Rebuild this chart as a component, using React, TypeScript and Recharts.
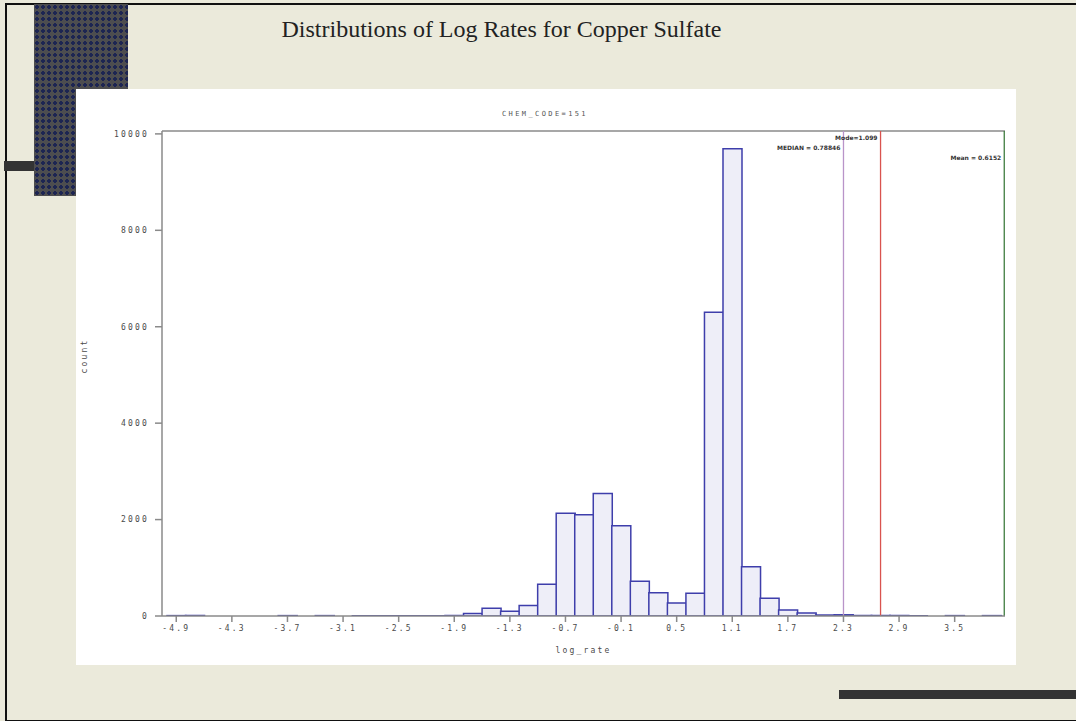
import React from "react";
import {
  ComposedChart,
  Bar,
  XAxis,
  YAxis,
  ReferenceLine,
} from "recharts";

// histogram bin midpoints (log_rate) and counts
const binMids = [
  -4.9, -4.7, -4.5, -4.3, -4.1, -3.9, -3.7, -3.5, -3.3, -3.1, -2.9, -2.7, -2.5,
  -2.3, -2.1, -1.9, -1.7, -1.5, -1.3, -1.1, -0.9, -0.7, -0.5, -0.3, -0.1, 0.1,
  0.3, 0.5, 0.7, 0.9, 1.1, 1.3, 1.5, 1.7, 1.9, 2.1, 2.3, 2.5, 2.7, 2.9, 3.1,
  3.3, 3.5, 3.7, 3.9,
];
const counts = [
  8, 8, 0, 0, 0, 0, 8, 0, 8, 0, 5, 5, 5, 5, 5, 10, 50, 160, 100, 220, 660,
  2130, 2100, 2540, 1870, 720, 480, 270, 470, 6300, 9690, 1020, 370, 125, 60,
  20, 25, 10, 10, 10, 5, 0, 8, 0, 8,
];
const yTicks = [0, 2000, 4000, 6000, 8000, 10000];

// vertical reference lines with their captions
const refLines = [
  { x: 2.3, text: "MEDIAN = 0.78846", color: "#b994c9", dy: 19 },
  { x: 2.7, text: "Mode=1.099", color: "#d9534f", dy: 9 },
  { x: 4.035, text: "Mean = 0.6152", color: "#3f7d3f", dy: 29 },
];

const data = binMids.map((m, i) => ({
  bin: m.toFixed(1),
  mid: m,
  count: counts[i],
}));

const tickFont = {
  fontFamily: "DejaVu Sans Mono",
  fontSize: 8,
  fill: "#4a4a4a",
  letterSpacing: 2.2,
};

function RefLabel(props: any) {
  const { viewBox, text, dy } = props;
  if (!viewBox) return null;
  return (
    <text
      x={viewBox.x - 3}
      y={viewBox.y + dy}
      textAnchor="end"
      fontFamily="DejaVu Sans"
      fontSize={6}
      fontWeight="bold"
      fill="#333"
    >
      {text}
    </text>
  );
}

export default function App() {
  return (
    <div
      style={{
        position: "absolute",
        left: 0,
        top: 0,
        width: 1076,
        height: 721,
        overflow: "hidden",
        background: "#ebeadb",
      }}
    >
      {/* slide frame */}
      <div
        style={{
          position: "absolute",
          left: 5,
          top: 3,
          width: 1100,
          height: 715,
          borderLeft: "2px solid #111",
          borderTop: "2px solid #111",
          borderBottom: "2px solid #111",
        }}
      />
      <div
        style={{
          position: "absolute",
          left: 34,
          top: 4,
          width: 94,
          height: 192,
          backgroundColor: "#4d4d4f",
          backgroundImage:
            "radial-gradient(circle, #1d2552 38%, transparent 45%)",
          backgroundSize: "6px 6px",
        }}
      />
      <div
        style={{
          position: "absolute",
          left: 4,
          top: 161,
          width: 30,
          height: 10,
          background: "#333",
        }}
      />
      <div
        style={{
          position: "absolute",
          left: 839,
          top: 690,
          width: 240,
          height: 9,
          background: "#333",
        }}
      />
      <div
        style={{
          position: "absolute",
          left: 0,
          top: 16,
          width: 1003,
          textAlign: "center",
          fontFamily: "Liberation Serif",
          fontSize: 24,
          color: "#222",
        }}
      >
        Distributions of Log Rates for Copper Sulfate
      </div>

      {/* white chart panel */}
      <div
        style={{
          position: "absolute",
          left: 76,
          top: 89,
          width: 940,
          height: 576,
          background: "#fff",
        }}
      >
        <div
          style={{
            position: "absolute",
            left: 0,
            top: 21,
            width: 938,
            textAlign: "center",
            fontFamily: "DejaVu Sans Mono",
            fontSize: 7,
            letterSpacing: 2.4,
            color: "#555",
          }}
        >
          CHEM_CODE=151
        </div>
        <ComposedChart
          width={940}
          height={576}
          data={data}
          barCategoryGap={0}
          barGap={0}
          margin={{ top: 42, right: 11, bottom: 0, left: 0 }}
        >
          <XAxis
            xAxisId="cat"
            dataKey="bin"
            type="category"
            interval={2}
            padding={{ left: 5, right: 4 }}
            height={49}
            tickSize={6}
            tickMargin={3}
            stroke="#8a8a8a"
            strokeWidth={1.5}
            tick={tickFont}
            label={{
              value: "log_rate",
              position: "insideBottom",
              offset: 12,
              style: tickFont,
            }}
          />
          <XAxis
            xAxisId="val"
            dataKey="mid"
            type="number"
            domain={[-5.054, 4.043]}
            allowDataOverflow
            hide
          />
          <YAxis
            width={86}
            domain={[0, 10060]}
            ticks={yTicks}
            allowDataOverflow
            tickSize={7}
            tickMargin={6}
            stroke="#8a8a8a"
            strokeWidth={1.5}
            tick={tickFont}
            label={{
              value: "count",
              angle: -90,
              position: "insideLeft",
              offset: 8,
              style: tickFont,
            }}
          />
          <ReferenceLine
            xAxisId="cat"
            y={10060}
            stroke="#8a8a8a"
            strokeWidth={1.5}
          />
          <Bar
            xAxisId="cat"
            dataKey="count"
            fill="#eeeef8"
            stroke="#3e3eab"
            strokeWidth={1.5}
            isAnimationActive={false}
          />
          {refLines.map((r) => (
            <ReferenceLine
              key={r.text}
              xAxisId="val"
              x={r.x}
              stroke={r.color}
              strokeWidth={1.3}
              label={<RefLabel text={r.text} dy={r.dy} />}
            />
          ))}
        </ComposedChart>
      </div>
    </div>
  );
}
